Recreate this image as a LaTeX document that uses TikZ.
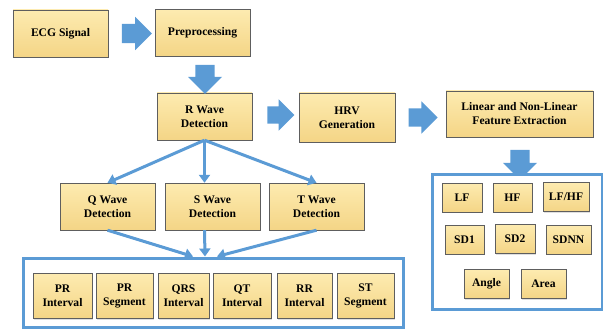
\documentclass[tikz,border=0pt]{standalone}
\usepackage{fontspec}
\setmainfont{Liberation Serif}
\usetikzlibrary{shapes.arrows,arrows.meta,shadows}
\definecolor{flowblue}{HTML}{5B9BD5}
\definecolor{boxtop}{HTML}{FDEBB0}
\definecolor{boxbot}{HTML}{F4D586}
\definecolor{boxline}{HTML}{5E5E5E}

\begin{document}
\begin{tikzpicture}[x=1pt,y=-1pt]
\tikzset{stage/.style={draw=boxline,thin,top color=boxtop,bottom color=boxbot,
    drop shadow={shadow xshift=1pt,shadow yshift=-1pt,opacity=.25},
    minimum width=95pt,minimum height=47pt,inner sep=1pt,align=center,
    font=\bfseries\fontsize{11.6}{14}\selectfont},
  item/.style={stage,minimum width=#1,minimum height=29pt},
  cell/.style={stage,minimum width=#1,minimum height=45pt},
  panel/.style={draw=flowblue,line width=3pt,fill=white},
  bigarrow/.style={single arrow,fill=flowblue,inner xsep=0pt,inner ysep=9.5pt,
    single arrow head extend=7pt,minimum width=33pt},
  downarrow/.style={bigarrow,shape border rotate=270,inner xsep=9pt,inner ysep=0pt,
    minimum width=34pt},
  link/.style={draw=flowblue,line width=3pt,-{Triangle[width=11pt,length=8pt]}}}
\useasboundingbox (0,0) rectangle (603,329);

% main chain
\node[stage] (ecg) at (60.5,33.5) {ECG Signal};
\node[stage] (pre) at (202.5,33) {Preprocessing};
\node[stage] (rwave) at (204.5,116.5) {R Wave\\Detection};
\node[stage,minimum width=96pt,minimum height=49pt] (hrv) at (347,117.5) {HRV\\Generation};
\node[stage,minimum width=147pt,minimum height=46pt] (feat) at (519.5,114) {Linear and Non-Linear\\Feature Extraction};
\node[stage] (qwave) at (107.5,206.5) {Q Wave\\Detection};
\node[stage] (swave) at (212.5,206.5) {S Wave\\Detection};
\node[stage] (twave) at (316.5,206.5) {T Wave\\Detection};

% block arrows
\node[bigarrow,minimum height=30pt] (go1) at (132,33.5) {};
\node[downarrow,minimum height=29pt] (go2) at (205,74.5) {};
\node[bigarrow,minimum height=27pt,minimum width=30pt,inner ysep=8.5pt] (go3) at (276.5,115) {};
\node[bigarrow,minimum height=29pt,minimum width=31pt,inner ysep=9pt] (go4) at (418.5,117.5) {};
\node[downarrow,minimum height=30pt] (go5) at (520,160) {};

% panels
\node[panel,minimum width=380pt,minimum height=69pt] (intervals) at (213,292.5) {};
\node[panel,minimum width=170pt,minimum height=135pt] (features) at (517,241.5) {};

\foreach \n/\x/\w/\t in {pri/62.5/59/PR\\Interval,prs/124.5/57/PR\\Segment,
    qrs/183.5/51/QRS\\Interval,qt/242/58/QT\\Interval,
    rr/304.5/55/RR\\Interval,st/365.5/57/ST\\Segment}{%
  \node[cell=\w pt] (\n) at (\x,296) {\t};
}%
\foreach \n/\x/\y/\w/\t in {lf/462/197.5/40/LF,hf/512.5/197.5/39/HF,lfhf/566/197/46/{LF/HF},
    sdone/464.5/239.5/39/SD1,sdtwo/515/239/40/SD2,sdnn/568.5/239.5/45/SDNN,
    angle/486.5/284/45/Angle,area/543.5/284/45/Area}{%
  \node[item=\w pt] (\n) at (\x,\y) {\t};
}%

% connectors
\draw[link] (rwave.south) -- (qwave.north);
\draw[link] (rwave.south) -- (rwave.south |- swave.north);
\draw[link] (rwave.south) -- (twave.north);
\draw[link] (qwave.south) -- ([xshift=-20pt]intervals.north);
\draw[link] (rwave.south |- swave.south) -- ([xshift=-8pt]intervals.north);
\draw[link] (twave.south) -- ([xshift=4pt]intervals.north);
\end{tikzpicture}
\end{document}
